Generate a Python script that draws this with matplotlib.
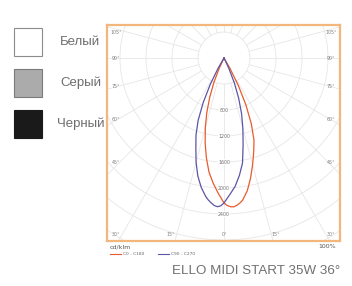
import numpy as np
import matplotlib.pyplot as plt
from matplotlib.patches import Circle, Rectangle

# light distribution, cd/klm, gamma angle in degrees (negative = left half)
angles_c0 = [-27.5, -25, -22.5, -20, -17.5, -15, -12.5, -10, -7.5, -5, -2.5, 0, 1.25, 2.5, 3.75,
             5, 6.25, 7.5, 10, 12.5, 15, 17.5, 20, 22.5, 25, 27.5, 30, 32.5]
values_c0 = [0, 180, 400, 640, 880, 1110, 1340, 1560, 1770, 1930, 2080, 2230, 2270, 2290, 2295,
             2275, 2245, 2205, 2070, 1890, 1700, 1520, 1350, 1100, 800, 480, 180, 0]

angles_c90 = [-32.5, -30, -27.5, -25, -22.5, -20, -17.5, -15, -12.5, -10, -7.5, -6.25, -5, -3.75,
              -2.5, -1.25, 0, 2.5, 5, 7.5, 10, 12.5, 15, 17.5, 20, 22.5, 25, 27.5]
values_c90 = [0, 180, 460, 760, 1040, 1260, 1440, 1660, 1860, 2020, 2150, 2200, 2240, 2275,
              2290, 2275, 2230, 2100, 1980, 1820, 1640, 1360, 1120, 900, 660, 420, 180, 0]

ring_values = [400, 800, 1200, 1600, 2000, 2400, 2800, 3200, 3600]
ring_labels = [800, 1200, 1600, 2000, 2400]

side_angles = ["105°", "90°", "75°", "60°", "45°"]
side_y = [32, 58, 86, 119, 163]
bottom_angles = ["30°", "15°", "0°", "15°", "30°"]
bottom_x = [116, 171, 224, 276, 331]

finish_names = ["Белый", "Серый", "Черный"]
finish_colors = ["#ffffff", "#ababab", "#1a1a1a"]
finish_edges = ["#8c8c8c", "#7a7a7a", "#1a1a1a"]

title = "ELLO MIDI START 35W 36°"
text_font = ["Liberation Sans", "DejaVu Sans"]

W, H = 352, 286
fig = plt.figure(figsize=(W / 100, H / 100), dpi=100)
fig.patch.set_facecolor("white")

# overlay in pixel coordinates for the swatches and captions
bg = fig.add_axes([0, 0, 1, 1])
bg.set_xlim(0, W)
bg.set_ylim(H, 0)
bg.axis("off")

for i, (name, c, ec) in enumerate(zip(finish_names, finish_colors, finish_edges)):
    top = 28 + i * 41
    bg.add_patch(Rectangle((14, top), 28, 28, fc=c, ec=ec, lw=0.8))
    bg.text(60 - (3 if i == 2 else 0), top + 14, name, fontsize=9.5, color="#6e6e6e",
            va="center", ha="left", family=text_font)

# photometric diagram
cx, cy = 224, 58
k = 400 / 26.0
L, R, T, B = 107, 340, 25, 241
ax = fig.add_axes([L / W, 1 - B / H, (R - L) / W, (B - T) / H])
ax.set_xlim((L - cx) * k, (R - cx) * k)
ax.set_ylim(-(B - cy) * k, (cy - T) * k)
ax.set_xticks([])
ax.set_yticks([])
for s in ax.spines.values():
    s.set_color("#f3b67d")
    s.set_linewidth(1.6)

grid = "#e6e6e6"
for r in ring_values:
    ax.add_patch(Circle((0, 0), r, fill=False, ec=grid, lw=0.6, zorder=1))
for a in range(0, 360, 15):
    t = np.radians(a)
    ax.plot([400 * np.sin(t), 6000 * np.sin(t)], [-400 * np.cos(t), -6000 * np.cos(t)],
            color=grid, lw=0.6, zorder=1)

for v in ring_labels:
    ax.text(0, -v, str(v), fontsize=3.4, color="#707070", ha="center", va="center", zorder=2,
            bbox=dict(fc="white", ec="none", pad=0.3))

def fx(x):
    return (x - L) / (R - L)

def fy(y):
    return (B - y) / (B - T)

for lab, y in zip(side_angles, side_y):
    ax.text(fx(116), fy(y), lab, transform=ax.transAxes, fontsize=3.4, color="#808080",
            ha="center", va="center")
    ax.text(fx(331), fy(y), lab, transform=ax.transAxes, fontsize=3.4, color="#808080",
            ha="center", va="center")
for lab, x in zip(bottom_angles, bottom_x):
    ax.text(fx(x), fy(234), lab, transform=ax.transAxes, fontsize=3.4, color="#808080",
            ha="center", va="center")

def curve(angles, values):
    g = np.radians(np.array(angles))
    v = np.array(values, dtype=float)
    return v * np.sin(g), -v * np.cos(g)

x0, y0 = curve(angles_c0, values_c0)
x9, y9 = curve(angles_c90, values_c90)
ax.plot(x0, y0, color="#ea5a2c", lw=0.9, zorder=3, solid_joinstyle="round")
ax.plot(x9, y9, color="#5b55a6", lw=0.9, zorder=3, solid_joinstyle="round")

# captions under the diagram
bg.text(110, 247, "cd/klm", fontsize=4.5, color="#555555", va="center", ha="left")
bg.text(336, 247, "100%", fontsize=4.5, color="#555555", va="center", ha="right")
bg.plot([110, 121], [254, 254], color="#ea5a2c", lw=0.8)
bg.text(123, 254, "C0 - C180", fontsize=3.2, color="#666666", va="center", ha="left")
bg.plot([158, 169], [254, 254], color="#5b55a6", lw=0.8)
bg.text(171, 254, "C90 - C270", fontsize=3.2, color="#666666", va="center", ha="left")

bg.text(340, 271, title, fontsize=9.6, color="#707070", va="center", ha="right",
        family=text_font)

fig.savefig("out.png", dpi=100)
